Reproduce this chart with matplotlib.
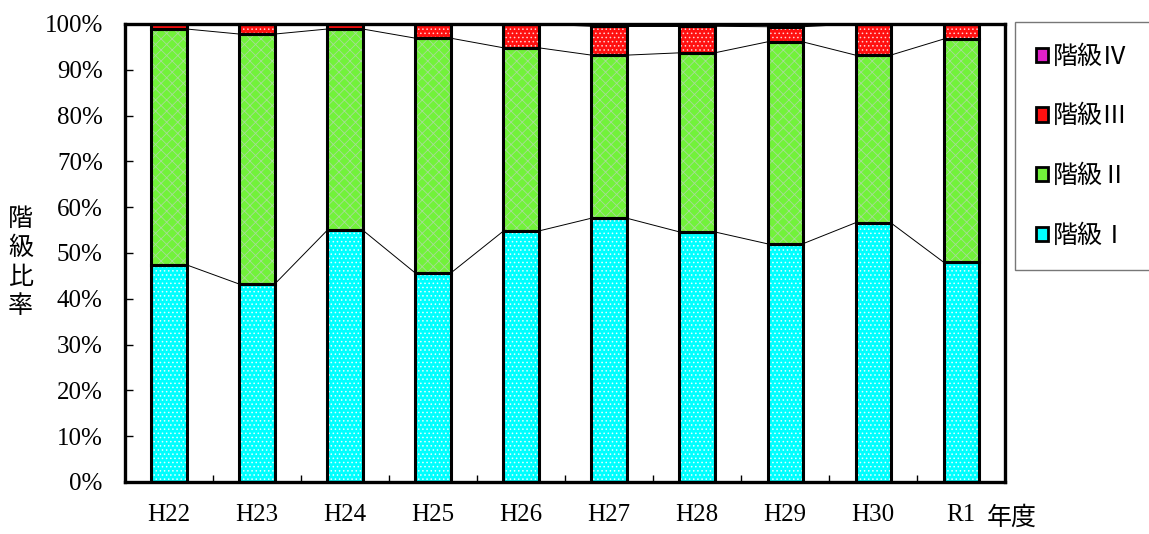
import matplotlib
matplotlib.use("Agg")
import matplotlib.pyplot as plt
from matplotlib.patches import Patch
import numpy as np

# data (percent of total)
years = ["H22", "H23", "H24", "H25", "H26", "H27", "H28", "H29", "H30", "R1"]
kyu1 = [47.4, 43.2, 55.0, 45.6, 54.8, 57.6, 54.6, 52.0, 56.6, 48.0]
kyu2 = [51.5, 54.6, 43.9, 51.3, 40.0, 35.6, 39.1, 44.1, 36.6, 48.7]
kyu4 = [0, 0, 0, 0, 0, 0.5, 0.5, 0.6, 0, 0]
kyu3 = [100 - a - b - d for a, b, d in zip(kyu1, kyu2, kyu4)]

names = ["階級Ⅰ", "階級Ⅱ", "階級Ⅲ", "階級Ⅳ"]
colors = ["#00FFFF", "#72F23A", "#FF1010", "#E020C8"]
hatches = ["....", "xxx", "....", ""]
hatch_cols = ["#E0FFFF", "#A8DC98", "#FFD0D0", "white"]

jp = ["Noto Sans CJK JP", "DejaVu Sans"]
num_font = "Liberation Serif"

plt.rcParams["hatch.linewidth"] = 0.6

fig = plt.figure(figsize=(11.49, 5.34), dpi=100)
ax = fig.add_axes([0.1088, 0.0974, 0.766, 0.8577])

x = np.arange(len(years))
w = 0.4
series = [kyu1, kyu2, kyu3, kyu4]
bottom = np.zeros(len(years))
tops = []
for vals, c, h, hc in zip(series, colors, hatches, hatch_cols):
    vals = np.array(vals)
    ax.bar(x, vals, w, bottom=bottom, color=c, hatch=h, edgecolor=hc, linewidth=0, zorder=2)
    ax.bar(x, vals, w, bottom=bottom, fill=False, edgecolor="black", linewidth=2.2, zorder=3)
    bottom = bottom + vals
    tops.append(bottom.copy())

# series lines between bars
for t in tops[:3]:
    for i in range(len(years) - 1):
        ax.plot([x[i] + w / 2, x[i + 1] - w / 2], [t[i], t[i + 1]], color="black", lw=0.7, zorder=1)

ax.set_xlim(-0.5, len(years) - 0.5)
ax.set_ylim(0, 100)
ax.set_yticks(np.arange(0, 101, 10))
ax.set_yticklabels([f"{v}%" for v in range(0, 101, 10)], fontfamily=num_font, fontsize=18)
ax.set_xticks(x)
ax.set_xticklabels(years, fontfamily=num_font, fontsize=18)
ax.set_xticks(np.arange(0.5, len(years) - 1, 1), minor=True)
ax.tick_params(axis="x", which="major", length=0, pad=16)
ax.tick_params(axis="x", which="minor", direction="in", length=5, width=1)
ax.tick_params(axis="y", direction="in", length=6, width=1, pad=16)
for s in ax.spines.values():
    s.set_linewidth(2.4)

fig.text(0.018, 0.509, "階\n級\n比\n率", family=jp, fontsize=18, ha="center", va="center", linespacing=1.15)
fig.text(0.881, 0.03, "年度", family=jp, fontsize=18, ha="center", va="center")

handles = [Patch(facecolor=c, edgecolor="black", linewidth=2) for c in colors]
leg = fig.legend(handles[::-1], names[::-1], loc="upper left", bbox_to_anchor=(0.883, 0.958),
                 prop={"family": jp, "size": 18}, frameon=True, fancybox=False,
                 handlelength=0.5, handleheight=0.5, handletextpad=0.2,
                 labelspacing=1.35, borderpad=0.85, borderaxespad=0)
leg.get_frame().set_edgecolor("#555555")
leg.get_frame().set_linewidth(1)

fig.savefig("out.png", dpi=100)
